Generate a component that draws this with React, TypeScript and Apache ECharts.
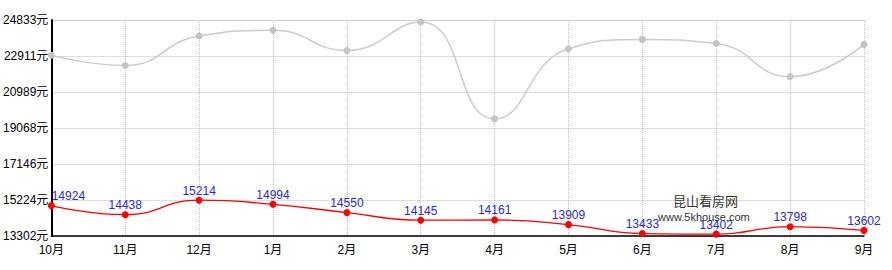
import React, { useEffect, useRef } from "react";
import * as echarts from "echarts";

const months = ["10月", "11月", "12月", "1月", "2月", "3月", "4月", "5月", "6月", "7月", "8月", "9月"];
const greyValues = [22950, 22404, 23975, 24281, 23208, 24726, 19561, 23295, 23798, 23583, 21813, 23530];
const redValues = [14924, 14438, 15214, 14994, 14550, 14145, 14161, 13909, 13433, 13402, 13798, 13602];
const yMin = 13302;
const yMax = 24833;
const ySteps = 6;

const FONT = "Arial, 'Liberation Sans', 'Noto Sans CJK SC', sans-serif";

export default function App() {
  const ref = useRef<HTMLDivElement>(null);
  useEffect(() => {
    if (!ref.current) return;
    const chart = echarts.init(ref.current, undefined, { renderer: "svg" });
    const interval = (yMax - yMin) / ySteps;
    chart.setOption({
      animation: false,
      grid: { left: 48, right: 28, top: 20, bottom: 34, containLabel: false },
      xAxis: {
        type: "category",
        data: months,
        boundaryGap: false,
        axisLine: { show: true, lineStyle: { color: "#000", width: 1.5 } },
        axisTick: { show: false },
        axisLabel: { color: "#000", fontSize: 12, fontFamily: FONT, margin: 8 },
        splitLine: { show: true, lineStyle: { color: "#bdbdbd", type: "dotted", width: 1 } },
      },
      yAxis: {
        type: "value",
        min: yMin,
        max: yMax,
        interval: interval,
        axisLine: { show: true, lineStyle: { color: "#000", width: 2 } },
        axisTick: { show: false },
        axisLabel: {
          color: "#000",
          fontSize: 12,
          fontFamily: FONT,
          margin: 3,
          formatter: (v: number) => Math.round(v) + "元",
        },
        splitLine: { show: true, lineStyle: { color: "#bdbdbd", type: "dotted", width: 1 } },
      },
      graphic: [
        {
          type: "text",
          left: 706 - 33,
          top: 194,
          z: 1,
          style: { text: "昆山看房网", fill: "#333", font: "13px 'Noto Sans CJK SC', sans-serif" },
        },
        {
          type: "text",
          left: 658,
          top: 211,
          z: 1,
          style: { text: "www.5khouse.com", fill: "#333", font: "11px " + FONT },
        },
      ],
      series: [
        {
          type: "line",
          data: greyValues,
          smooth: true,
          symbol: "circle",
          symbolSize: 7,
          lineStyle: { color: "#cccccc", width: 1.5 },
          itemStyle: { color: "#c4c4c4" },
          z: 3,
        },
        {
          type: "line",
          data: redValues.map((v, i) =>
            i === 0 ? { value: v, label: { offset: [17, 0] } } : v
          ),
          smooth: true,
          symbol: "circle",
          symbolSize: 7,
          lineStyle: { color: "#ff0000", width: 1.3 },
          itemStyle: { color: "#ff0000" },
          label: {
            show: true,
            position: "top",
            distance: 0,
            color: "#2a2acc",
            fontSize: 12,
            fontFamily: FONT,
          },
          z: 4,
        },
      ],
    });
    return () => chart.dispose();
  }, []);
  return <div ref={ref} style={{ width: 892, height: 270, position: "absolute", left: 0, top: 0 }} />;
}
